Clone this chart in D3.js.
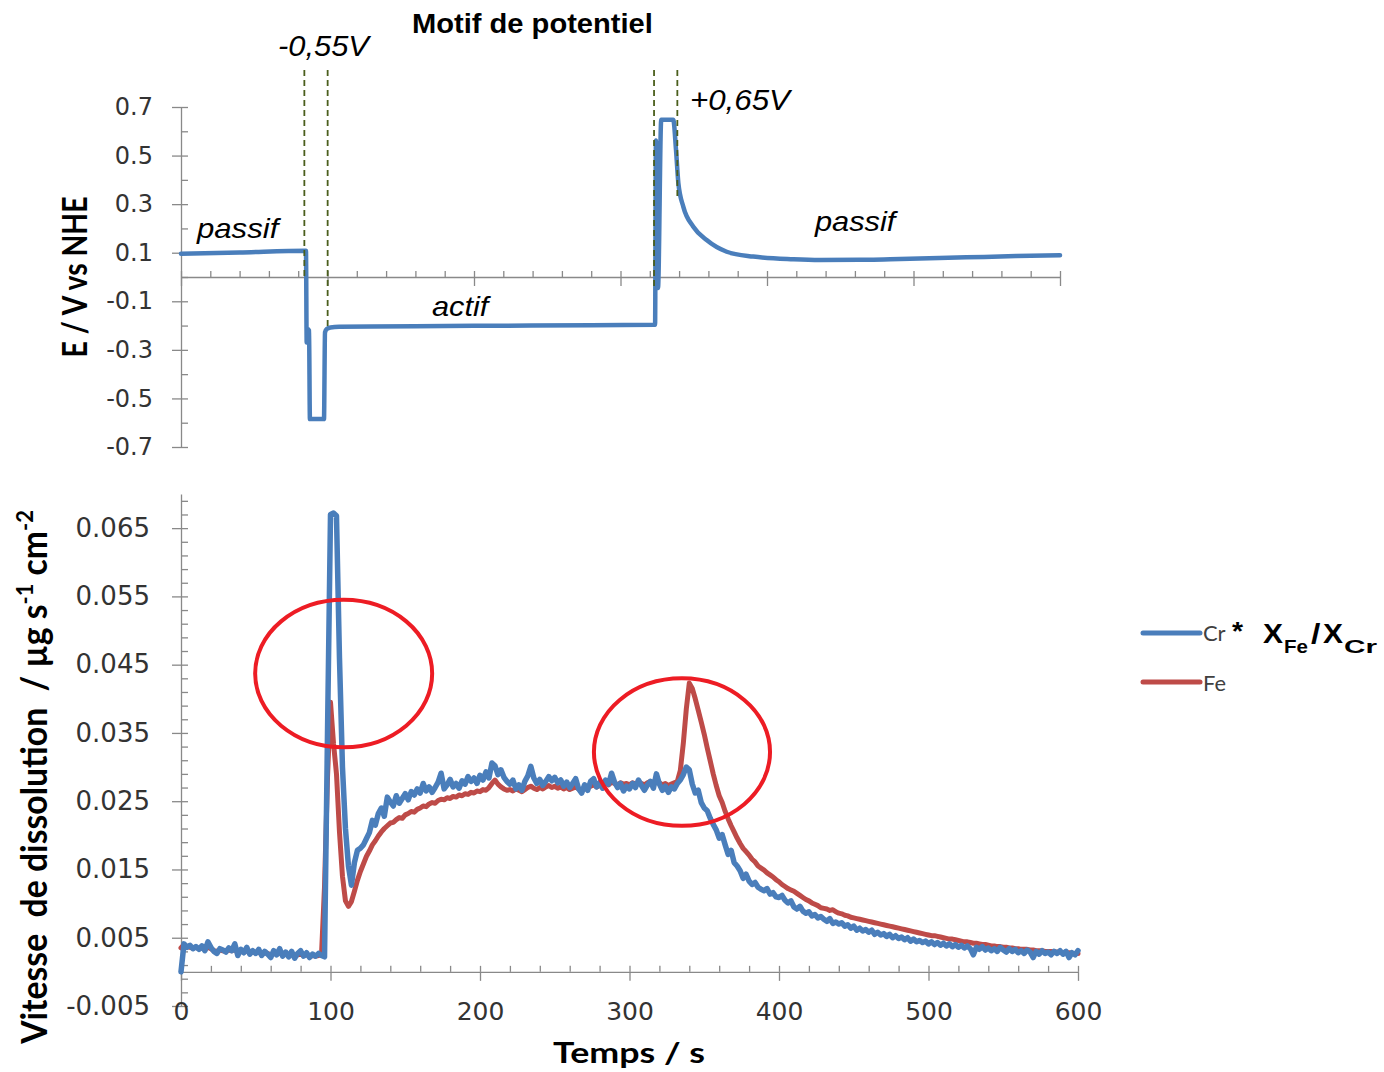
<!DOCTYPE html>
<html><head><meta charset="utf-8">
<script src="https://cdn.jsdelivr.net/npm/d3@7"></script>
<style>body{margin:0;background:#fff}svg{display:block}text{white-space:pre}</style>
</head><body>
<svg id="c" width="1384" height="1072"></svg>
<script>
// ---------------- DATA ----------------
// Potential pattern (top panel): time (s) and E (V vs NHE)
const potTime = [0, 40, 85.3, 85.8, 86.6, 87.4, 88.0, 97.6, 98.3, 99.5, 102, 108, 130, 200, 280, 323.6,
  324.2, 325.6, 327.8, 336.0, 337.9, 339.5, 342.9, 349.7, 358.8, 372.5, 390.6, 418, 436, 470,
  490.8, 536, 570, 600];
const potE = [0.096, 0.101, 0.108, -0.27, -0.215, -0.22, -0.585, -0.585, -0.228, -0.214, -0.208, -0.205,
  -0.204, -0.201, -0.199, -0.197, 0.562, -0.045, 0.647, 0.647, 0.523, 0.386, 0.289, 0.207, 0.152, 0.104,
  0.084, 0.073, 0.070, 0.071, 0.074, 0.081, 0.086, 0.090];
// dashed marker lines (time, lower end E); upper end E
const markTime = [84.2, 100.1, 322.9, 338.8];
const markLow = [0.0, -0.21, -0.05, 0.325];
const markHigh = 0.852;
const potYTicks = [-0.7, -0.5, -0.3, -0.1, 0.1, 0.3, 0.5, 0.7];
const potYMinor = [-0.7, -0.6, -0.5, -0.4, -0.3, -0.2, -0.1, 0, 0.1, 0.2, 0.3, 0.4, 0.5, 0.6, 0.7];
const timeTicks = [0, 100, 200, 300, 400, 500, 600];
const timeMinor = [0,20,40,60,80,100,120,140,160,180,200,220,240,260,280,300,320,340,360,380,400,420,440,460,480,500,520,540,560,580,600];

// Dissolution rates (bottom panel), sampled every 2 s from 0 to 600 s
const sampleStep = 2;
const crSeries = [
 0.0000,0.0041,0.0036,0.0039,0.0034, 0.0037,0.0033,0.0038,0.0031,0.0044,
 0.0036,0.0030,0.0027,0.0034,0.0032, 0.0029,0.0035,0.0031,0.0041,0.0024,
 0.0033,0.0028,0.0036,0.0026,0.0031, 0.0027,0.0033,0.0024,0.0030,0.0026,
 0.0021,0.0031,0.0025,0.0034,0.0023, 0.0029,0.0022,0.0030,0.0020,0.0027,
 0.0031,0.0023,0.0028,0.0021,0.0026, 0.0023,0.0027,0.0024,0.0022,0.0350,
 0.0670,0.0672,0.0668,0.0460,0.0300, 0.0210,0.0155,0.0127,0.0160,0.0178,
 0.0181,0.0186,0.0195,0.0204,0.0222, 0.0215,0.0232,0.0240,0.0228,0.0256,
 0.0249,0.0243,0.0258,0.0247,0.0254, 0.0261,0.0252,0.0264,0.0259,0.0268,
 0.0262,0.0276,0.0265,0.0271,0.0263, 0.0270,0.0278,0.0291,0.0268,0.0274,
 0.0282,0.0271,0.0276,0.0269,0.0280, 0.0275,0.0286,0.0279,0.0284,0.0276,
 0.0288,0.0281,0.0293,0.0284,0.0306, 0.0302,0.0289,0.0296,0.0285,0.0279,
 0.0275,0.0281,0.0268,0.0274,0.0266, 0.0279,0.0287,0.0301,0.0284,0.0276,
 0.0282,0.0273,0.0279,0.0286,0.0280, 0.0285,0.0277,0.0281,0.0272,0.0278,
 0.0270,0.0276,0.0283,0.0268,0.0262, 0.0274,0.0266,0.0279,0.0283,0.0271,
 0.0277,0.0269,0.0281,0.0275,0.0291, 0.0278,0.0270,0.0276,0.0265,0.0272,
 0.0268,0.0276,0.0270,0.0281,0.0273, 0.0266,0.0274,0.0279,0.0269,0.0290,
 0.0275,0.0266,0.0272,0.0263,0.0271, 0.0268,0.0276,0.0281,0.0289,0.0300,
 0.0296,0.0275,0.0262,0.0266,0.0248, 0.0240,0.0236,0.0225,0.0216,0.0208,
 0.0196,0.0201,0.0186,0.0172,0.0178, 0.0160,0.0155,0.0148,0.0137,0.0143,
 0.0133,0.0128,0.0131,0.0124,0.0121, 0.0119,0.0122,0.0114,0.0116,0.0110,
 0.0109,0.0112,0.0105,0.0101,0.0104, 0.0095,0.0092,0.0096,0.0089,0.0086,
 0.0088,0.0082,0.0084,0.0079,0.0081, 0.0077,0.0074,0.0078,0.0071,0.0073,
 0.0070,0.0072,0.0067,0.0069,0.0064, 0.0067,0.0061,0.0064,0.0060,0.0062,
 0.0058,0.0061,0.0055,0.0058,0.0054, 0.0056,0.0052,0.0055,0.0050,0.0053,
 0.0049,0.0051,0.0047,0.0050,0.0045, 0.0048,0.0044,0.0046,0.0043,0.0045,
 0.0041,0.0044,0.0040,0.0043,0.0039, 0.0042,0.0038,0.0041,0.0037,0.0040,
 0.0036,0.0039,0.0035,0.0038,0.0034, 0.0025,0.0036,0.0033,0.0037,0.0032,
 0.0035,0.0031,0.0034,0.0030,0.0036, 0.0032,0.0029,0.0034,0.0030,0.0033,
 0.0028,0.0031,0.0027,0.0032,0.0029, 0.0021,0.0030,0.0026,0.0031,0.0027,
 0.0029,0.0025,0.0030,0.0027,0.0031, 0.0026,0.0030,0.0021,0.0028,0.0025,
 0.0031];
const feSeries = [
 0.0035,0.0040,0.0037,0.0036,0.0035, 0.0036,0.0034,0.0035,0.0033,0.0036,
 0.0034,0.0031,0.0030,0.0032,0.0031, 0.0030,0.0032,0.0031,0.0033,0.0028,
 0.0030,0.0029,0.0031,0.0028,0.0029, 0.0028,0.0029,0.0026,0.0028,0.0027,
 0.0025,0.0027,0.0026,0.0028,0.0025, 0.0026,0.0024,0.0026,0.0023,0.0025,
 0.0026,0.0024,0.0025,0.0023,0.0024, 0.0023,0.0024,0.0026,0.0125,0.0285,
 0.0395,0.0335,0.0290,0.0205,0.0140, 0.0104,0.0096,0.0103,0.0118,0.0134,
 0.0147,0.0158,0.0169,0.0177,0.0186, 0.0192,0.0199,0.0205,0.0210,0.0214,
 0.0218,0.0219,0.0223,0.0226,0.0225, 0.0230,0.0232,0.0235,0.0234,0.0238,
 0.0240,0.0243,0.0242,0.0246,0.0248, 0.0247,0.0251,0.0253,0.0252,0.0255,
 0.0254,0.0257,0.0256,0.0259,0.0258, 0.0261,0.0260,0.0263,0.0262,0.0265,
 0.0264,0.0267,0.0266,0.0270,0.0276, 0.0281,0.0275,0.0271,0.0268,0.0266,
 0.0267,0.0265,0.0268,0.0266,0.0264, 0.0267,0.0270,0.0272,0.0269,0.0267,
 0.0270,0.0268,0.0271,0.0273,0.0270, 0.0272,0.0269,0.0271,0.0268,0.0270,
 0.0267,0.0269,0.0271,0.0268,0.0266, 0.0268,0.0270,0.0272,0.0274,0.0271,
 0.0273,0.0275,0.0277,0.0274,0.0278, 0.0276,0.0274,0.0277,0.0275,0.0276,
 0.0274,0.0277,0.0275,0.0278,0.0276, 0.0274,0.0277,0.0279,0.0276,0.0278,
 0.0277,0.0274,0.0276,0.0273,0.0275, 0.0277,0.0279,0.0295,0.0335,0.0385,
 0.0423,0.0415,0.0400,0.0383,0.0366, 0.0348,0.0328,0.0309,0.0290,0.0273,
 0.0258,0.0248,0.0235,0.0224,0.0214, 0.0205,0.0196,0.0188,0.0181,0.0176,
 0.0171,0.0165,0.0161,0.0155,0.0152, 0.0149,0.0145,0.0142,0.0139,0.0135,
 0.0132,0.0128,0.0125,0.0122,0.0120, 0.0118,0.0115,0.0112,0.0109,0.0106,
 0.0104,0.0101,0.0099,0.0097,0.0094, 0.0093,0.0092,0.0090,0.0091,0.0088,
 0.0086,0.0085,0.0083,0.0082,0.0080, 0.0079,0.0078,0.0077,0.0076,0.0075,
 0.0074,0.0073,0.0072,0.0071,0.0070, 0.0069,0.0068,0.0067,0.0066,0.0065,
 0.0064,0.0063,0.0062,0.0061,0.0060, 0.0059,0.0058,0.0057,0.0056,0.0055,
 0.0054,0.0053,0.0053,0.0052,0.0051, 0.0050,0.0049,0.0048,0.0048,0.0047,
 0.0046,0.0045,0.0044,0.0044,0.0043, 0.0042,0.0042,0.0041,0.0040,0.0040,
 0.0039,0.0038,0.0038,0.0037,0.0037, 0.0036,0.0036,0.0035,0.0035,0.0034,
 0.0034,0.0033,0.0033,0.0033,0.0032, 0.0032,0.0031,0.0031,0.0031,0.0030,
 0.0030,0.0030,0.0029,0.0029,0.0029, 0.0028,0.0028,0.0028,0.0027,0.0027,
 0.0027];
const rateYTicks = [-0.005, 0.005, 0.015, 0.025, 0.035, 0.045, 0.055, 0.065];
const rateYMinor = [-0.005,-0.003,-0.001,0.001,0.003,0.005,0.007,0.009,0.011,0.013,0.015,0.017,0.019,0.021,0.023,0.025,0.027,0.029,0.031,0.033,0.035,0.037,0.039,0.041,0.043,0.045,0.047,0.049,0.051,0.053,0.055,0.057,0.059,0.061,0.063,0.065,0.067,0.069];
// highlight ellipses: centre time, centre rate, half-width (s), half-height (rate)
const ringTime = [108.8, 335.1];
const ringRate = [0.0437, 0.0322];
const ringHalfT = [59.2, 58.9];
const ringHalfR = [0.0108, 0.0108];

// ---------------- DRAWING ----------------
const BLUE = '#4a7ebb', RED = '#be4b48', AXIS = '#898989', TICKTXT = '#333333';
const svg = d3.select('#c');

function label(opts) {
  const t = svg.append('text')
    .attr('font-family', opts.family || 'Lato')
    .attr('font-size', opts.size)
    .attr('font-weight', opts.weight || 'normal')
    .attr('font-style', opts.style || 'normal')
    .attr('fill', opts.fill || '#000')
    .text(opts.text);
  const w = t.node().getBBox().width;
  const s = opts.width ? opts.width / w : 1;
  if (opts.rotate) {
    t.attr('text-anchor', 'middle')
     .attr('transform', `translate(${opts.x},${opts.y}) rotate(-90) scale(${s},${opts.thick || 1})`);
  } else {
    t.attr('transform', `translate(${opts.x},${opts.y}) scale(${s},1)`);
  }
  return t;
}

// ===== Top panel =====
const xTop = d3.scaleLinear().domain([0, 600]).range([181, 1060]);
const yTop = d3.scaleLinear().domain([-0.7, 0.7]).range([447, 107]);

function styleAxis(g) {
  g.selectAll('path.domain').attr('stroke', AXIS).attr('stroke-width', 1.3);
  g.selectAll('.tick line').attr('stroke', AXIS).attr('stroke-width', 1.3);
  g.selectAll('.tick text').attr('fill', TICKTXT).attr('font-family', 'DejaVu Sans');
}

const gTy = svg.append('g').attr('transform', `translate(${xTop(0)},0)`)
  .call(d3.axisLeft(yTop).tickValues(potYTicks).tickSize(9).tickSizeOuter(0).tickPadding(19)
    .tickFormat(d => d.toFixed(1)));
styleAxis(gTy);
gTy.selectAll('.tick text').attr('font-size', 24);
const gTyMinor = svg.append('g').attr('transform', `translate(${xTop(0)},0)`)
  .call(d3.axisRight(yTop).tickValues(potYMinor).tickSize(7).tickFormat(''));
gTyMinor.select('path.domain').remove();
styleAxis(gTyMinor);

const gTx = svg.append('g').attr('transform', `translate(0,${yTop(0)})`)
  .call(d3.axisBottom(xTop).tickValues(timeTicks).tickSize(9).tickSizeOuter(0).tickFormat(''));
styleAxis(gTx);
const gTxMinor = svg.append('g').attr('transform', `translate(0,${yTop(0)})`)
  .call(d3.axisTop(xTop).tickValues(timeMinor).tickSize(6).tickFormat(''));
gTxMinor.select('path.domain').remove();
styleAxis(gTxMinor);

const potLine = d3.line().curve(d3.curveMonotoneX).x((d, i) => xTop(potTime[i])).y(d => yTop(d));
svg.append('path').datum(potE).attr('d', potLine)
  .attr('fill', 'none').attr('stroke', BLUE).attr('stroke-width', 4.5)
  .attr('stroke-linejoin', 'round').attr('stroke-linecap', 'round');

svg.append('g').selectAll('line').data(markTime).join('line')
  .attr('x1', d => xTop(d)).attr('x2', d => xTop(d))
  .attr('y1', yTop(markHigh)).attr('y2', (d, i) => yTop(markLow[i]))
  .attr('stroke', '#4a5e1c').attr('stroke-width', 1.8).attr('stroke-dasharray', '6,4');

// ===== Bottom panel =====
const xBot = d3.scaleLinear().domain([0, 600]).range([181, 1078]);
const yBot = d3.scaleLinear().domain([-0.005, 0.07]).range([1006, 494]);

const gBy = svg.append('g').attr('transform', `translate(${xBot(0)},0)`)
  .call(d3.axisLeft(yBot).tickValues(rateYTicks).tickSize(9).tickSizeOuter(0).tickPadding(22)
    .tickFormat(d => d.toFixed(3)));
styleAxis(gBy);
gBy.selectAll('.tick text').attr('font-size', 26);
const gByMinor = svg.append('g').attr('transform', `translate(${xBot(0)},0)`)
  .call(d3.axisRight(yBot).tickValues(rateYMinor).tickSize(7).tickFormat(''));
gByMinor.select('path.domain').remove();
styleAxis(gByMinor);

const gBx = svg.append('g').attr('transform', `translate(0,${yBot(0)})`)
  .call(d3.axisBottom(xBot).tickValues(timeTicks).tickSize(9).tickSizeOuter(0).tickPadding(21)
    .tickFormat(d => String(d)));
styleAxis(gBx);
gBx.selectAll('.tick text').attr('font-size', 25);
const gBxMinor = svg.append('g').attr('transform', `translate(0,${yBot(0)})`)
  .call(d3.axisTop(xBot).tickValues(timeMinor).tickSize(6).tickFormat(''));
gBxMinor.select('path.domain').remove();
styleAxis(gBxMinor);

const rateLine = d3.line().x((d, i) => xBot(i * sampleStep)).y(d => yBot(d));
svg.append('path').datum(feSeries).attr('d', rateLine)
  .attr('fill', 'none').attr('stroke', RED).attr('stroke-width', 5)
  .attr('stroke-linejoin', 'round').attr('stroke-linecap', 'round');
svg.append('path').datum(crSeries).attr('d', rateLine)
  .attr('fill', 'none').attr('stroke', BLUE).attr('stroke-width', 5.5)
  .attr('stroke-linejoin', 'round').attr('stroke-linecap', 'round');

svg.append('g').selectAll('ellipse').data(ringTime).join('ellipse')
  .attr('cx', d => xBot(d)).attr('cy', (d, i) => yBot(ringRate[i]))
  .attr('rx', (d, i) => xBot(d + ringHalfT[i]) - xBot(d))
  .attr('ry', (d, i) => yBot(ringRate[i] - ringHalfR[i]) - yBot(ringRate[i]))
  .attr('fill', 'none').attr('stroke', '#ed1c24').attr('stroke-width', 4);

// ===== Texts =====
label({x: 412, y: 33, text: 'Motif de potentiel', family: 'Liberation Sans', weight: 'bold', size: 27, width: 241});
label({x: 278, y: 56, text: '-0,55V', family: 'Liberation Sans', style: 'italic', size: 30, width: 94});
label({x: 690, y: 110, text: '+0,65V', family: 'Liberation Sans', style: 'italic', size: 30, width: 103});
label({x: 197, y: 238, text: 'passif', family: 'Liberation Sans', style: 'italic', size: 28, width: 86});
label({x: 432, y: 316, text: 'actif', family: 'Liberation Sans', style: 'italic', size: 28, width: 60});
label({x: 815, y: 231, text: 'passif', family: 'Liberation Sans', style: 'italic', size: 28, width: 85});

label({x: 87, y: 277, text: 'E / V vs NHE', weight: 'bold', size: 30, width: 161, rotate: true, thick: 1.15});
label({x: 553, y: 1063, text: 'Temps / s', weight: 'bold', size: 29, width: 152});

(function () {
  const t = svg.append('text').attr('font-family', 'Lato').attr('font-weight', 'bold')
    .attr('font-size', 34).attr('fill', '#000').attr('text-anchor', 'middle');
  t.append('tspan').text('Vitesse  de dissolution  / µg s');
  t.append('tspan').attr('font-size', 22).attr('dy', -13).text('-1');
  t.append('tspan').attr('dy', 13).text(' cm');
  t.append('tspan').attr('font-size', 22).attr('dy', -13).text('-2');
  const w = t.node().getBBox().width;
  t.attr('transform', `translate(47,777) rotate(-90) scale(${535 / w},1.05)`);
})();

// legend
svg.append('line').attr('x1', 1143).attr('x2', 1200).attr('y1', 633).attr('y2', 633)
  .attr('stroke', BLUE).attr('stroke-width', 5).attr('stroke-linecap', 'round');
svg.append('line').attr('x1', 1143).attr('x2', 1200).attr('y1', 682).attr('y2', 682)
  .attr('stroke', RED).attr('stroke-width', 5).attr('stroke-linecap', 'round');
label({x: 1203, y: 641, text: 'Cr', size: 21, width: 23, fill: '#404040'});
label({x: 1203, y: 691, text: 'Fe', size: 21, width: 23, fill: '#404040'});
label({x: 1232, y: 640, text: '*', family: 'Liberation Sans', weight: 'bold', size: 26, width: 12});
label({x: 1263, y: 643, text: 'X', family: 'Liberation Sans', weight: 'bold', size: 27, width: 20});
label({x: 1284, y: 653, text: 'Fe', family: 'Liberation Sans', weight: 'bold', size: 19, width: 24});
label({x: 1311, y: 643, text: '/', family: 'Liberation Sans', weight: 'bold', size: 27, width: 10});
label({x: 1323, y: 643, text: 'X', family: 'Liberation Sans', weight: 'bold', size: 27, width: 20});
label({x: 1344, y: 653, text: 'Cr', family: 'Liberation Sans', weight: 'bold', size: 19, width: 34});
</script>
</body></html>
